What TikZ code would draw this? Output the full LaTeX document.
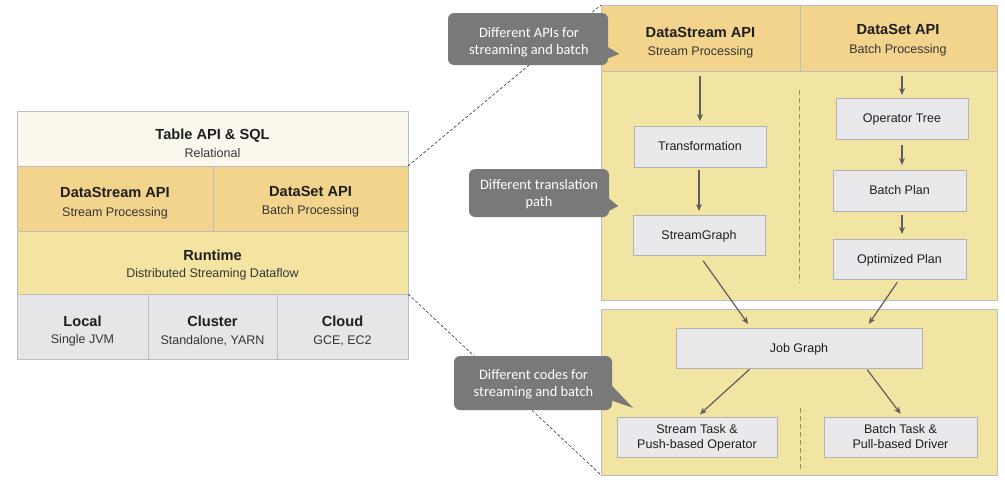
\documentclass[tikz,border=0pt]{standalone}
\usepackage{fontspec}
\setmainfont{Liberation Sans}
\newfontfamily\calfont{Carlito}
\usetikzlibrary{arrows.meta,calc}
\definecolor{tablefill}{HTML}{FAF7EC}
\definecolor{apifill}{HTML}{F2D48C}
\definecolor{runfill}{HTML}{F3E4A2}
\definecolor{envfill}{HTML}{E6E6E9}
\definecolor{panelfill}{HTML}{F2E4A3}
\definecolor{boxfill}{HTML}{E9E9EB}
\definecolor{cellline}{HTML}{BDBDBD}
\definecolor{boxline}{HTML}{B3B3B3}
\definecolor{calloutfill}{HTML}{797979}
\definecolor{arrowcol}{HTML}{5E5E5E}
\definecolor{divcol}{HTML}{A88A48}
\definecolor{txt}{HTML}{1E1E1E}
\begin{document}
\begin{tikzpicture}[x=1pt,y=-1pt,
  cell/.style={draw=cellline, line width=0.8pt, anchor=north west, inner sep=0pt, outer sep=0pt},
  ttl/.style={anchor=base, inner sep=0pt, text=txt, font=\fontsize{14.6}{17}\selectfont\bfseries},
  sub/.style={anchor=base, inner sep=0pt, text=txt!90, font=\fontsize{12.5}{15}\selectfont},
  box/.style={draw=boxline, fill=boxfill, line width=0.8pt, inner sep=0pt, outer sep=0pt,
    text=txt, font=\fontsize{12.5}{15}\selectfont, text height=8.95pt, text depth=0pt},
  boxline/.style={anchor=base, inner sep=0pt, text=txt, font=\fontsize{12.5}{15}\selectfont},
  callout/.style={fill=calloutfill, rounded corners=6pt, inner sep=0pt},
  ctext/.style={anchor=base, inner sep=0pt, text=white, font=\calfont\fontsize{14.4}{16.7}\selectfont},
  arr/.style={draw=arrowcol, line width=1.2pt, -{Stealth[length=7pt,width=6pt]}},
  dashln/.style={draw=black!80, line width=0.6pt, dash pattern=on 3pt off 2pt},
  divln/.style={draw=divcol, line width=0.9pt, dash pattern=on 5pt off 3pt}
]
\fill[white] (0,0) rectangle (1005,482);
\useasboundingbox (0,0) rectangle (1005,482);

% ---------- left stack ----------
\node[cell, fill=tablefill, minimum width=391pt, minimum height=55pt] (table) at (17,111) {};
\node[cell, fill=apifill, minimum width=196pt, minimum height=65pt] (lds) at (17,166) {};
\node[cell, fill=apifill, minimum width=195pt, minimum height=65pt] (ldset) at (213,166) {};
\node[cell, fill=runfill, minimum width=391pt, minimum height=63pt] (runtime) at (17,231) {};
\node[cell, fill=envfill, minimum width=131pt, minimum height=65pt] (local) at (17,294) {};
\node[cell, fill=envfill, minimum width=129pt, minimum height=65pt] (cluster) at (148,294) {};
\node[cell, fill=envfill, minimum width=131pt, minimum height=65pt] (cloud) at (277,294) {};

\node[ttl] (tableT) at (212.5,139) {Table API \& SQL};
\node[sub] (tableS) at (212.5,157.3) {Relational};
\node[ttl] (ldsT) at (115,197.3) {DataStream API};
\node[sub] (ldsS) at (115,216) {Stream Processing};
\node[ttl] (ldsetT) at (310.5,196) {DataSet API};
\node[sub] (ldsetS) at (310.5,214) {Batch Processing};
\node[ttl] (runT) at (212.5,260) {Runtime};
\node[sub] (runS) at (212.5,277.7) {Distributed Streaming Dataflow};
\node[ttl] (localT) at (82.5,326) {Local};
\node[sub] (localS) at (82.5,343.5) {Single JVM};
\node[ttl] (clusterT) at (212.5,326.5) {Cluster};
\node[sub] (clusterS) at (212.5,344) {Standalone, YARN};
\node[ttl] (cloudT) at (342.5,326.5) {Cloud};
\node[sub] (cloudS) at (342.5,344) {GCE, EC2};

% ---------- right side panels ----------
\node[cell, fill=apifill, minimum width=199pt, minimum height=66pt] (hds) at (601,5) {};
\node[cell, fill=apifill, minimum width=197pt, minimum height=66pt] (hdset) at (800,5) {};
\node[cell, fill=panelfill, minimum width=396pt, minimum height=229pt] (uppanel) at (601,71) {};
\node[cell, fill=panelfill, minimum width=396pt, minimum height=166pt] (lowpanel) at (601,309) {};

\node[ttl] (hdsT) at (700.5,37.3) {DataStream API};
\node[sub] (hdsS) at (700.5,55.3) {Stream Processing};
\node[ttl] (hdsetT) at (898,34.5) {DataSet API};
\node[sub] (hdsetS) at (898,53) {Batch Processing};

% dashed zoom lines
\draw[dashln] (table.south east) -- (hds.north west);
\draw[dashln] (runtime.south east) -- (lowpanel.south west);

% dividers
\draw[divln] (799.5,90) -- (799.5,283);
\draw[divln] (800,408) -- (800,470);

% boxes
\node[box, minimum width=132pt, minimum height=41pt] (trans) at (700,146.5) {Transformation};
\node[box, minimum width=132pt, minimum height=40pt] (sg) at (699,235) {StreamGraph};
\node[box, minimum width=132pt, minimum height=41pt] (optree) at (902,118.5) {Operator Tree};
\node[box, minimum width=133pt, minimum height=41pt] (bplan) at (899.5,190.5) {Batch Plan};
\node[box, minimum width=133pt, minimum height=40pt] (oplan) at (899.5,259) {Optimized Plan};
\node[box, minimum width=246pt, minimum height=40pt] (job) at (799,348) {Job Graph};
\node[box, minimum width=160pt, minimum height=40pt] (stask) at (697,437) {};
\node[boxline] (staskA) at (697,433.3) {Stream Task \&};
\node[boxline] (staskB) at (697,448.3) {Push-based Operator};
\node[box, minimum width=153pt, minimum height=40pt] (btask) at (900.5,437) {};
\node[boxline] (btaskA) at (900.5,433.3) {Batch Task \&};
\node[boxline] (btaskB) at (900.5,448.3) {Pull-based Driver};

% arrows
\draw[arr, shorten <=5pt, shorten >=5pt] (trans.north |- hds.south) -- (trans.north);
\draw[arr, shorten <=3pt, shorten >=4pt] (sg.north |- trans.south) -- (sg.north);
\draw[arr, shorten <=5pt, shorten >=3pt] (optree.north |- hdset.south) -- (optree.north);
\draw[arr, shorten <=6pt, shorten >=5pt] (optree.south) -- (optree.south |- bplan.north);
\draw[arr, shorten <=4pt, shorten >=5pt] (optree.south |- bplan.south) -- (optree.south |- oplan.north);
\coordinate (jobinL) at ($(job.north west)+(75,0)$);
\coordinate (jobinR) at ($(job.north west)+(190,0)$);
\coordinate (joboutL) at ($(job.south west)+(75,0)$);
\coordinate (joboutR) at ($(job.south west)+(190,0)$);
\draw[arr, shorten <=7pt, shorten >=5pt] (sg.south) -- (jobinL);
\draw[arr, shorten <=4pt, shorten >=5pt] (oplan.south) -- (jobinR);
\draw[arr, shorten <=2pt, shorten >=4pt] (joboutL) -- (stask.north);
\draw[arr, shorten <=2pt, shorten >=4pt] (joboutR) -- ($(btask.north)+(2.5,0)$);

% callouts
\node[callout, minimum width=160pt, minimum height=52pt] (c1) at (528,39) {};
\fill[calloutfill] ($(c1.east)+(-2,7)$) -- ($(c1.east)+(11,15)$) -- ($(c1.east)+(-2,20)$) -- cycle;
\node[ctext] (c1a) at (529,37.3) {Different APIs for};
\node[ctext] (c1b) at (529,54) {streaming and batch};
\node[callout, minimum width=140pt, minimum height=48pt] (c2) at (539,193) {};
\fill[calloutfill] ($(c2.east)+(-2,4)$) -- ($(c2.east)+(9,13)$) -- ($(c2.east)+(-2,19)$) -- cycle;
\node[ctext] (c2a) at (539,189.3) {Different translation};
\node[ctext] (c2b) at (539,206) {path};
\node[callout, minimum width=158pt, minimum height=54pt] (c3) at (533,383) {};
\fill[calloutfill] ($(c3.east)+(-2,1)$) -- ($(c3.east)+(21,25)$) -- ($(c3.east)+(-2,17)$) -- cycle;
\node[ctext] (c3a) at (533.5,379.3) {Different codes for};
\node[ctext] (c3b) at (533.5,396) {streaming and batch};
\end{tikzpicture}
\end{document}
